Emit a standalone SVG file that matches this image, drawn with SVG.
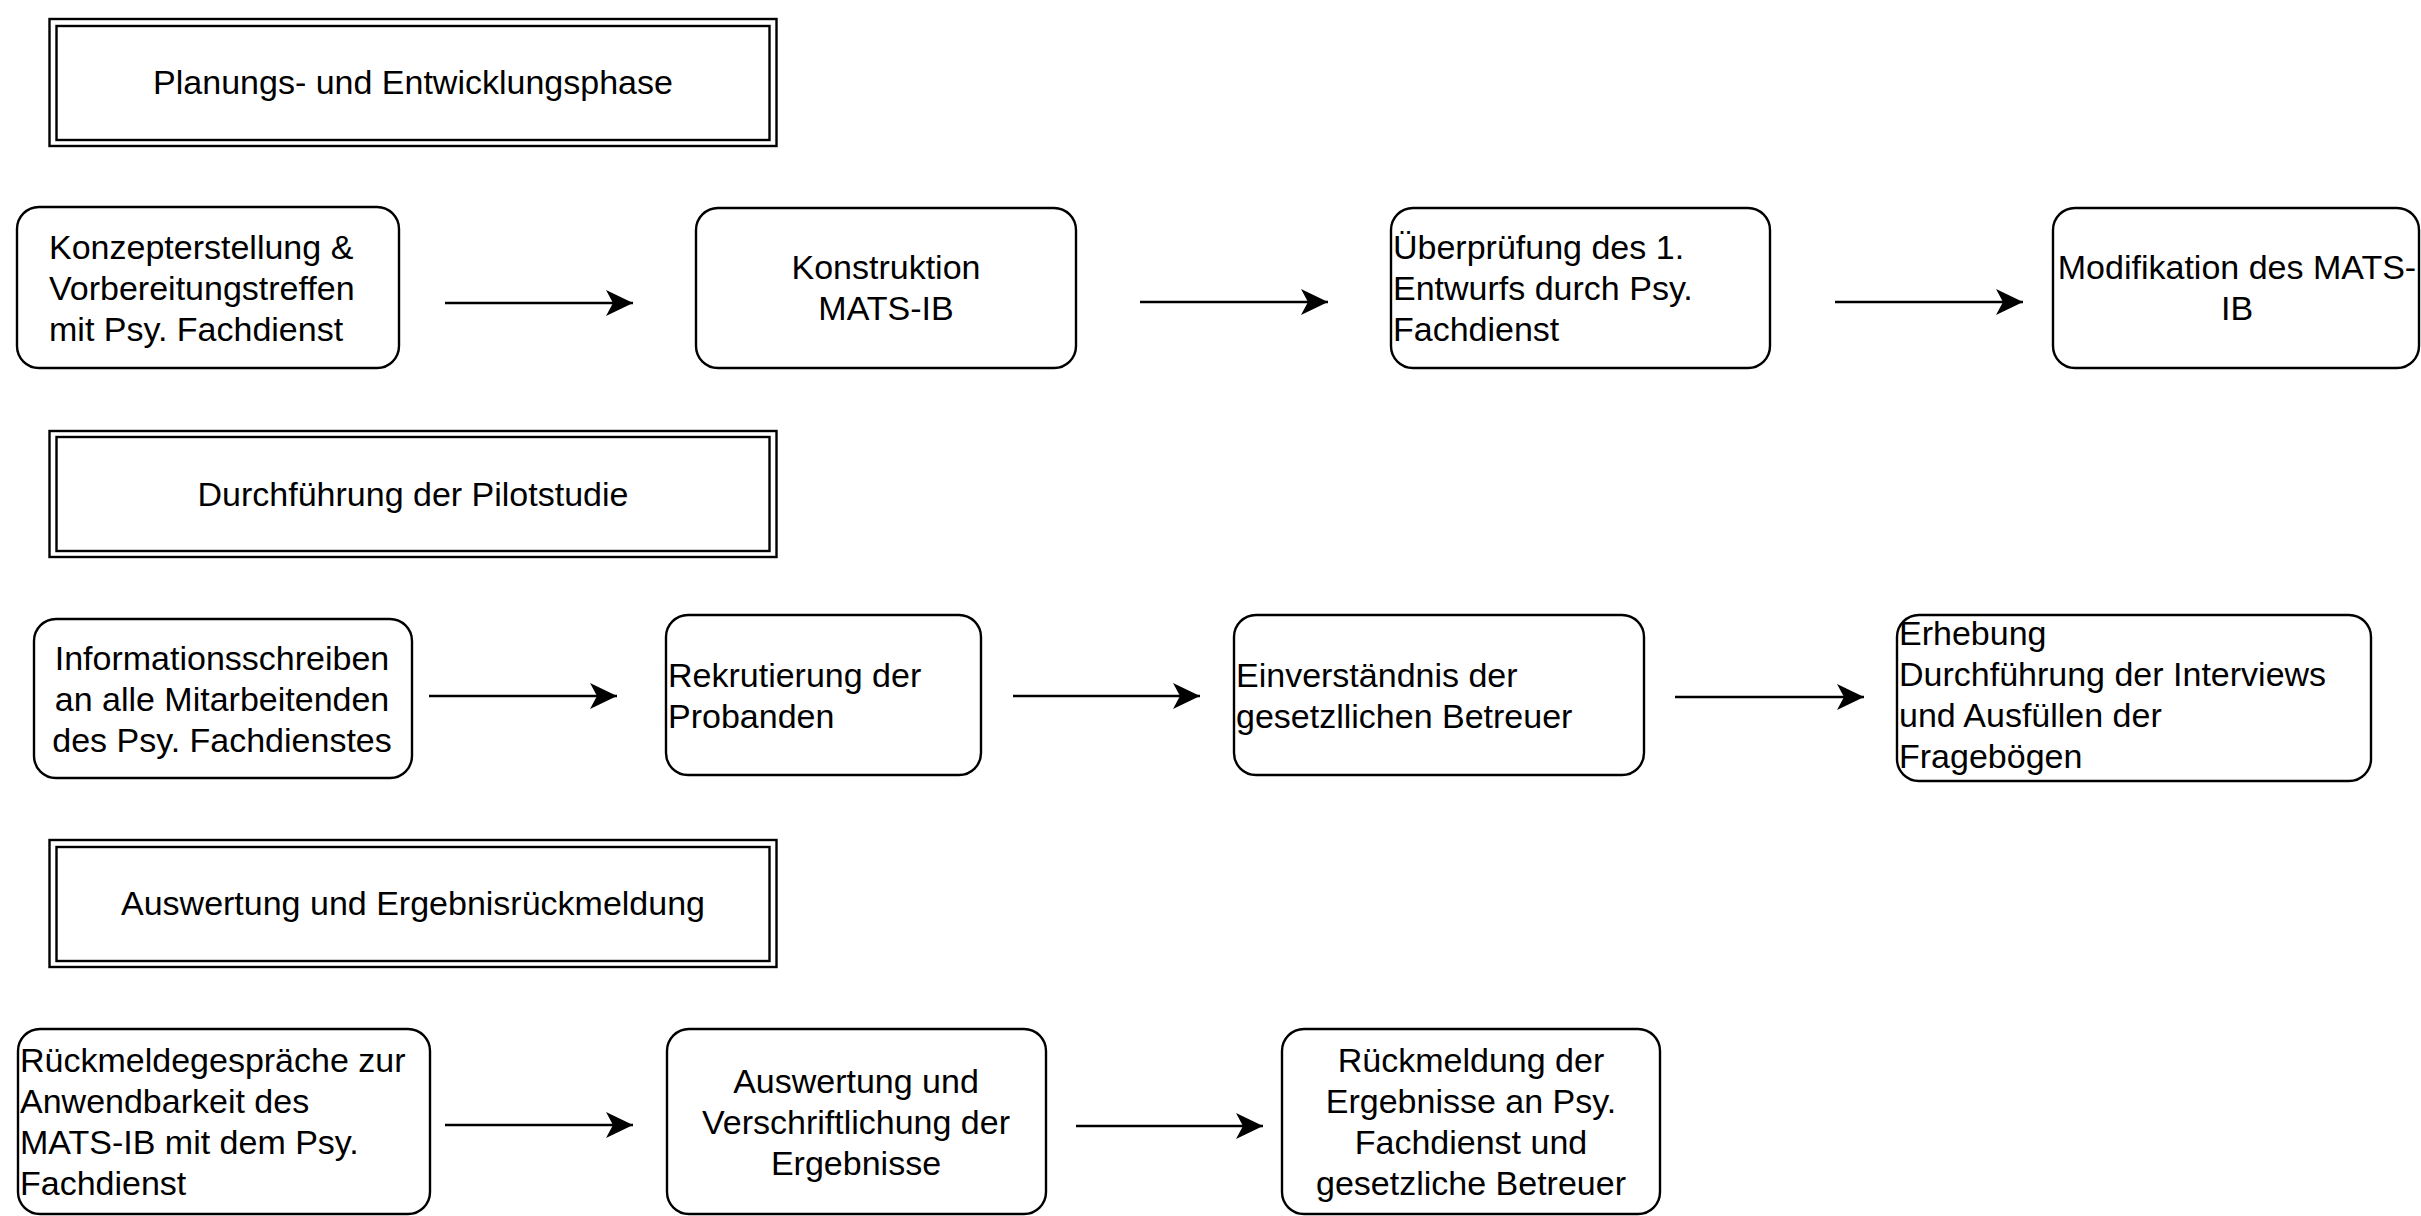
<svg xmlns="http://www.w3.org/2000/svg" width="2421" height="1216" viewBox="0 0 2421 1216">
<style>
.box{fill:#fff;stroke:#000;stroke-width:2.4}
.hdr{fill:#fff;stroke:#000;stroke-width:2.4}
.hdri{fill:none;stroke:#000;stroke-width:2.4}
text{font-family:"Liberation Sans",Arial,Helvetica,sans-serif;font-size:34px;fill:#000}
.c{text-anchor:middle}
.edge{stroke:#000;stroke-width:2.6;fill:none;marker-end:url(#arr)}
</style>
<defs>
<marker id="arr" markerUnits="userSpaceOnUse" markerWidth="28" markerHeight="28" refX="27" refY="13" orient="auto" viewBox="0 0 28 26">
<path d="M0,0 L27,13 L0,26 L7,13 Z" fill="#000"/>
</marker>
</defs>
<rect width="2421" height="1216" fill="#fff"/>

<g id="header1">
<rect class="hdr" x="49.5" y="19" width="727" height="127"/>
<rect class="hdri" x="56.5" y="26" width="713" height="114"/>
<text class="c" x="413" y="94">Planungs- und Entwicklungsphase</text>
</g>
<g id="header2">
<rect class="hdr" x="49.5" y="431" width="727" height="126"/>
<rect class="hdri" x="56.5" y="437" width="713" height="114"/>
<text class="c" x="413" y="506">Durchführung der Pilotstudie</text>
</g>
<g id="header3">
<rect class="hdr" x="49.5" y="840" width="727" height="127"/>
<rect class="hdri" x="56.5" y="847" width="713" height="114"/>
<text class="c" x="413" y="915">Auswertung und Ergebnisrückmeldung</text>
</g>

<g id="n1">
<rect class="box" x="17" y="207" width="382" height="161" rx="22"/>
<text x="49" y="259">Konzepterstellung &amp;</text>
<text x="49" y="300">Vorbereitungstreffen</text>
<text x="49" y="341">mit Psy. Fachdienst</text>
</g>
<g id="n2">
<rect class="box" x="696" y="208" width="380" height="160" rx="22"/>
<text class="c" x="886" y="279">Konstruktion</text>
<text class="c" x="886" y="320">MATS-IB</text>
</g>
<g id="n3">
<rect class="box" x="1391" y="208" width="379" height="160" rx="22"/>
<text x="1393" y="259">Überprüfung des 1.</text>
<text x="1393" y="300">Entwurfs durch Psy.</text>
<text x="1393" y="341">Fachdienst</text>
</g>
<g id="n4">
<rect class="box" x="2053" y="208" width="366" height="160" rx="22"/>
<text class="c" x="2237" y="279">Modifikation des MATS-</text>
<text class="c" x="2237" y="320">IB</text>
</g>

<g id="n5">
<rect class="box" x="34" y="619" width="378" height="159" rx="22"/>
<text class="c" x="222" y="670">Informationsschreiben</text>
<text class="c" x="222" y="711">an alle Mitarbeitenden</text>
<text class="c" x="222" y="752">des Psy. Fachdienstes</text>
</g>
<g id="n6">
<rect class="box" x="666" y="615" width="315" height="160" rx="22"/>
<text x="668" y="687">Rekrutierung der</text>
<text x="668" y="728">Probanden</text>
</g>
<g id="n7">
<rect class="box" x="1234" y="615" width="410" height="160" rx="22"/>
<text x="1236" y="687">Einverständnis der</text>
<text x="1236" y="728">gesetzllichen Betreuer</text>
</g>
<g id="n8">
<rect class="box" x="1897" y="615" width="474" height="166" rx="22"/>
<text x="1899" y="645">Erhebung</text>
<text x="1899" y="686">Durchführung der Interviews</text>
<text x="1899" y="727">und Ausfüllen der</text>
<text x="1899" y="768">Fragebögen</text>
</g>

<g id="n9">
<rect class="box" x="18" y="1029" width="412" height="185" rx="22"/>
<text x="20" y="1072">Rückmeldegespräche zur</text>
<text x="20" y="1113">Anwendbarkeit des</text>
<text x="20" y="1154">MATS-IB mit dem Psy.</text>
<text x="20" y="1195">Fachdienst</text>
</g>
<g id="n10">
<rect class="box" x="667" y="1029" width="379" height="185" rx="22"/>
<text class="c" x="856" y="1093">Auswertung und</text>
<text class="c" x="856" y="1134">Verschriftlichung der</text>
<text class="c" x="856" y="1175">Ergebnisse</text>
</g>
<g id="n11">
<rect class="box" x="1282" y="1029" width="378" height="185" rx="22"/>
<text class="c" x="1471" y="1072">Rückmeldung der</text>
<text class="c" x="1471" y="1113">Ergebnisse an Psy.</text>
<text class="c" x="1471" y="1154">Fachdienst und</text>
<text class="c" x="1471" y="1195">gesetzliche Betreuer</text>
</g>

<g id="connectors">
<line class="edge" x1="445" y1="303" x2="633" y2="303"/>
<line class="edge" x1="1140" y1="302" x2="1328" y2="302"/>
<line class="edge" x1="1835" y1="302" x2="2023" y2="302"/>
<line class="edge" x1="429" y1="696" x2="617" y2="696"/>
<line class="edge" x1="1013" y1="696" x2="1200" y2="696"/>
<line class="edge" x1="1675" y1="697" x2="1864" y2="697"/>
<line class="edge" x1="445" y1="1125" x2="633" y2="1125"/>
<line class="edge" x1="1076" y1="1126" x2="1263" y2="1126"/>
</g>
</svg>
